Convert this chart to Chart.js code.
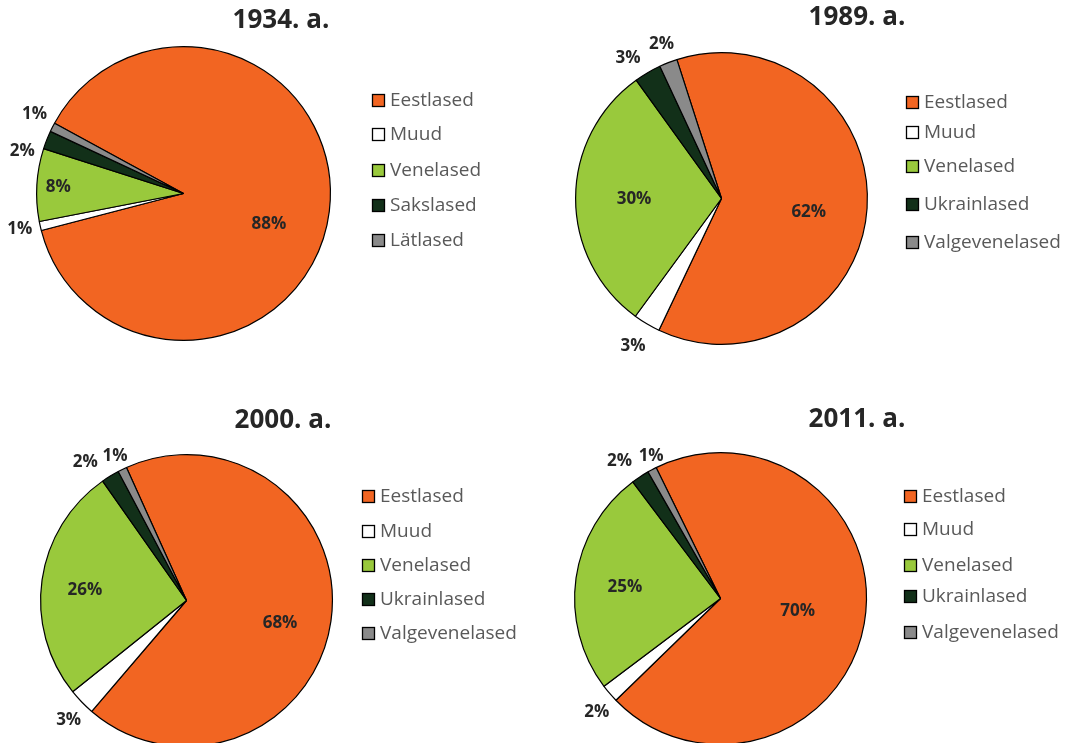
<!DOCTYPE html>
<html><head><meta charset="utf-8">
<script src="https://cdn.jsdelivr.net/npm/chart.js@4"></script>
<style>
html,body{margin:0;padding:0;width:1075px;height:743px;overflow:hidden;background:#fff;}
.box{position:absolute;}
</style></head><body>
<div class="box" id="b0"><canvas id="c0"></canvas></div>
<div class="box" id="b1"><canvas id="c1"></canvas></div>
<div class="box" id="b2"><canvas id="c2"></canvas></div>
<div class="box" id="b3"><canvas id="c3"></canvas></div>
<script>
// ---- data ----
const titles = ["1934. a.", "1989. a.", "2000. a.", "2011. a."];
const labels1934 = ["Eestlased", "Muud", "Venelased", "Sakslased", "Lätlased"];
const labelsLater = ["Eestlased", "Muud", "Venelased", "Ukrainlased", "Valgevenelased"];
const values1934 = [88, 1, 8, 2, 1];
const values1989 = [62, 3, 30, 3, 2];
const values2000 = [68, 3, 26, 2, 1];
const values2011 = [70, 2, 25, 2, 1];
const sliceColors = ["#F26522", "#FFFFFF", "#99C93C", "#123019", "#8A8A8A"];

// ---- layout (positions/styles only) ----
const layouts = [
  {left:0,   top:0,   w:537, h:372, cx:183, cy:193, r:147, rot:-61.4, tx:281, ty:21, lx:372, rows:[100,134,170,205,240],
   nudge:[[-5,20],[0,-2],[-5,1],[-5,19],[1,-4]]},
  {left:537, top:0,   w:538, h:372, cx:184, cy:198, r:146, rot:-17.8, tx:320, ty:18, lx:369, rows:[102,132,166,204,242],
   nudge:[[-3,8],[-3,4],[3,1],[-9,4],[1,1]]},
  {left:0,   top:372, w:537, h:400, cx:186, cy:228, r:146, rot:-24.3, tx:283, ty:49, lx:362, rows:[124,159,193,227,261],
   nudge:[[4,10],[2,4],[-12,2],[-14,4],[2,6]]},
  {left:537, top:372, w:538, h:400, cx:183, cy:226, r:146, rot:-26.2, tx:320, ty:48, lx:367, rows:[124,157,193,224,260],
   nudge:[[-12,-3],[3,5],[-6,1],[-9,2],[9,5]]}
];
const datasets = [
  {labels: labels1934, values: values1934},
  {labels: labelsLater, values: values1989},
  {labels: labelsLater, values: values2000},
  {labels: labelsLater, values: values2011}
];

const decor = {
  id: 'decor',
  afterDatasetsDraw(chart, args, opts) {
    const ctx = chart.ctx;
    const L = opts.layout;
    ctx.save();
    // title
    ctx.fillStyle = '#262626';
    ctx.font = 'bold 26px "Open Sans"';
    ctx.textAlign = 'center';
    ctx.textBaseline = 'middle';
    ctx.fillText(opts.title, L.tx, L.ty);
    // legend
    const ds = chart.data.datasets[0];
    chart.data.labels.forEach((lab, i) => {
      const y = L.rows[i];
      ctx.fillStyle = ds.backgroundColor[i];
      ctx.fillRect(L.lx + 0.5, y - 6 + 0.5, 12, 12);
      ctx.strokeStyle = '#000';
      ctx.lineWidth = 1.3;
      ctx.strokeRect(L.lx + 0.5, y - 6 + 0.5, 12, 12);
      ctx.fillStyle = '#595959';
      ctx.font = '19px "Open Sans"';
      ctx.textAlign = 'left';
      ctx.fillText(lab, L.lx + 18, y + 1);
    });
    // percentage labels
    const meta = chart.getDatasetMeta(0);
    const total = ds.data.reduce((a, b) => a + b, 0);
    meta.data.forEach((arc, i) => {
      const p = arc.getProps(['x','y','startAngle','endAngle','outerRadius'], true);
      const mid = (p.startAngle + p.endAngle) / 2;
      const v = ds.data[i];
      const frac = v / total;
      let d;
      if (frac < 0.05) d = p.outerRadius + 21;
      else if (frac < 0.15) d = p.outerRadius * 0.82;
      else d = p.outerRadius * 0.62;
      const n = (L.nudge && L.nudge[i]) || [0, 0];
      const x = p.x + Math.cos(mid) * d + n[0];
      const y = p.y + Math.sin(mid) * d + n[1];
      ctx.fillStyle = '#262626';
      ctx.font = 'bold 17px "Open Sans"';
      ctx.textAlign = 'center';
      ctx.textBaseline = 'middle';
      ctx.fillText(v + '%', x, y);
    });
    ctx.restore();
  }
};

layouts.forEach((L, k) => {
  const box = document.getElementById('b' + k);
  box.style.left = L.left + 'px';
  box.style.top = L.top + 'px';
  box.style.width = L.w + 'px';
  box.style.height = L.h + 'px';
  const D = datasets[k];
  new Chart(document.getElementById('c' + k), {
    type: 'pie',
    data: {
      labels: D.labels,
      datasets: [{
        data: D.values,
        backgroundColor: sliceColors,
        borderColor: '#000',
        borderWidth: 1.2,
        borderAlign: 'center'
      }]
    },
    options: {
      responsive: true,
      maintainAspectRatio: false,
      animation: false,
      rotation: L.rot,
      layout: {
        padding: {
          left: L.cx - L.r,
          top: L.cy - L.r,
          right: L.w - (L.cx + L.r) - 1,
          bottom: L.h - (L.cy + L.r) - 1
        }
      },
      plugins: {
        legend: {display: false},
        tooltip: {enabled: false},
        title: {display: false},
        decor: {title: titles[k], layout: L}
      }
    },
    plugins: [decor]
  });
});
</script>
</body></html>
